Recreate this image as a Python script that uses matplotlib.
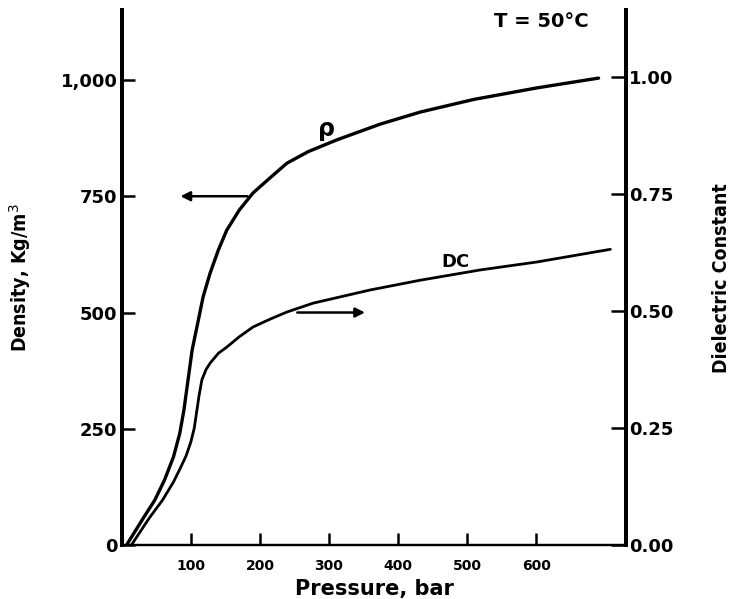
import matplotlib.pyplot as plt
from matplotlib.ticker import FixedLocator, FuncFormatter

# density curve (rho)
p_rho = [7, 30, 48, 62, 75, 84, 90, 96, 102, 109, 118, 128, 140, 152, 170, 190,
         215, 239, 270, 311, 374, 432, 509, 601, 690]
rho = [0, 55, 97, 140, 190, 240, 290, 355, 420, 470, 535, 585, 635, 677, 720,
       757, 790, 821, 846, 871, 905, 931, 958, 983, 1004]

# dielectric constant curve (DC)
p_dc = [14, 40, 59, 75, 85, 93, 100, 105, 108, 112, 116, 122, 128, 140, 152,
        170, 190, 215, 239, 277, 359, 432, 519, 601, 707]
dc = [0, 0.058, 0.096, 0.135, 0.165, 0.19, 0.22, 0.25, 0.28, 0.32, 0.353, 0.375,
      0.389, 0.41, 0.423, 0.445, 0.466, 0.483, 0.498, 0.517, 0.545, 0.566,
      0.588, 0.605, 0.632]

x_ticks = [100, 200, 300, 400, 500, 600]
rho_ticks = [0, 250, 500, 750, 1000]
dc_ticks = [0.0, 0.25, 0.5, 0.75, 1.0]

fig = plt.figure(figsize=(7.42, 5.99), dpi=100)
ax = fig.add_axes([0.164, 0.090, 0.680, 0.893])
ax2 = ax.twinx()

ax.plot(p_rho, rho, color='black', lw=2.4, solid_capstyle='round',
        solid_joinstyle='round')
ax2.plot(p_dc, dc, color='black', lw=2.0, solid_capstyle='round',
         solid_joinstyle='round')

ax.set_xlim(0, 730)
ax.set_ylim(0, 1150)
ax2.set_ylim(0, 1.143)

for a in (ax, ax2):
    a.spines['top'].set_visible(False)
    a.spines['left'].set_linewidth(2.8)
    a.spines['right'].set_linewidth(2.8)
    a.spines['bottom'].set_linewidth(1.6)

ax.xaxis.set_major_locator(FixedLocator(x_ticks))
ax.yaxis.set_major_locator(FixedLocator(rho_ticks))
ax.yaxis.set_major_formatter(FuncFormatter(lambda v, pos: f'{int(v):,}'))
ax2.yaxis.set_major_locator(FixedLocator(dc_ticks))
ax2.yaxis.set_major_formatter(FuncFormatter(lambda v, pos: f'{v:.2f}'))

ax.tick_params(axis='x', direction='in', length=9, width=1.8, pad=10,
               labelsize=10)
ax.tick_params(axis='y', direction='in', length=9, width=1.8, pad=3,
               labelsize=13)
ax2.tick_params(axis='y', direction='in', length=11, width=1.8, pad=2,
                labelsize=13)
for lab in ax.get_xticklabels() + ax.get_yticklabels() + ax2.get_yticklabels():
    lab.set_fontweight('heavy')

ax.set_xlabel('Pressure, bar', fontsize=15, fontweight='heavy', labelpad=4)
ax.set_ylabel('Density, Kg/m$^3$', fontsize=14, fontweight='bold',
              fontstretch='condensed', labelpad=20)
ax2.set_ylabel('Dielectric Constant', fontsize=14, fontweight='bold',
               fontstretch='condensed', rotation=90, labelpad=28)

ax.text(284, 880, 'ρ', fontsize=17, fontweight='bold')
ax.text(462, 597, 'DC', fontsize=13, fontweight='heavy')
ax.text(607, 1125, 'T = 50°C', fontsize=14, fontweight='heavy',
        ha='center', va='center')

# arrows pointing to each curve's axis
ax.annotate('', xy=(81, 750), xytext=(186, 750),
            arrowprops=dict(arrowstyle='-|>', color='black', lw=1.8,
                            mutation_scale=14))
ax.annotate('', xy=(356, 500), xytext=(250, 500),
            arrowprops=dict(arrowstyle='-|>', color='black', lw=1.8,
                            mutation_scale=14))

fig.savefig('out.png', dpi=100)
